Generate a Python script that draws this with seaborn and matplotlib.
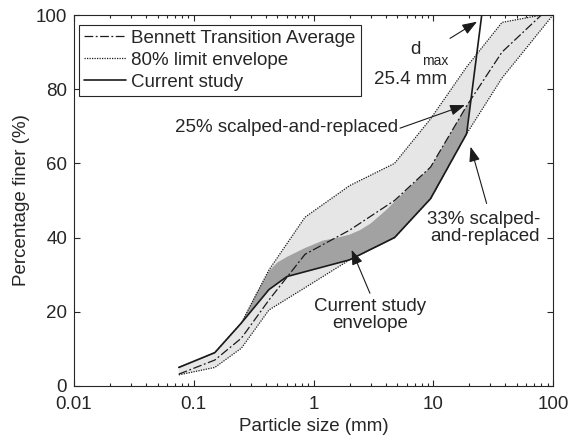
import numpy as np
import pandas as pd
import seaborn as sns
import matplotlib
matplotlib.use("Agg")
import matplotlib.pyplot as plt
from matplotlib.ticker import LogLocator, NullFormatter

# ---- data ----
avg_size = [0.075, 0.15, 0.25, 0.425, 0.85, 2.0, 4.75, 9.5, 19.0, 37.5, 80.0]
avg_pct = [3.2, 7.0, 12.9, 23.2, 35.5, 42.0, 50.0, 59.0, 75.5, 90.0, 100.0]

upper_size = [0.075, 0.15, 0.25, 0.425, 0.85, 2.0, 4.75, 9.5, 19.0, 37.5, 80.0, 100.0]
upper_pct = [5.0, 9.0, 17.0, 31.3, 45.5, 54.0, 60.0, 72.0, 86.0, 98.0, 100.0, 100.0]

lower_size = [0.075, 0.15, 0.25, 0.425, 0.85, 2.0, 4.75, 9.5, 19.0, 37.5, 100.0]
lower_pct = [3.0, 5.0, 10.2, 20.5, 26.5, 34.0, 40.0, 50.5, 68.0, 83.0, 100.0]

study_size = [0.075, 0.15, 0.25, 0.425, 0.6, 2.0, 4.75, 9.5, 19.0, 25.4]
study_pct = [5.0, 9.0, 17.0, 26.0, 29.5, 34.0, 40.0, 50.5, 68.0, 100.0]

env_top_size = [0.25, 0.33, 0.425, 0.5, 0.6, 0.85, 1.2, 1.6, 2.0, 2.44, 3.0, 3.6, 4.07, 4.75, 9.5, 19.0, 20.7]
env_top_pct = [17.0, 24.7, 31.0, 33.3, 34.8, 37.2, 39.2, 40.0, 40.8, 42.0, 43.8, 46.0, 47.5, 49.7, 59.0, 75.5, 77.3]

x_ticks = [0.01, 0.1, 1, 10, 100]
x_tick_labels = ["0.01", "0.1", "1", "10", "100"]
y_ticks = [0, 20, 40, 60, 80, 100]

# ---- style ----
sns.set_theme(style="ticks")
INK = "#262626"
plt.rcParams.update({
    "font.family": ["Liberation Sans", "DejaVu Sans"],
    "font.size": 13.5,
    "text.color": INK,
    "axes.labelcolor": INK,
    "axes.edgecolor": INK,
    "xtick.color": INK,
    "ytick.color": INK,
    "axes.linewidth": 0.8,
})

fig = plt.figure(figsize=(5.69, 4.43), dpi=100)
ax = fig.add_axes([74 / 569, 1 - 386 / 443, (553 - 74) / 569, (386 - 15) / 443])
ax.set_xscale("log")

# light grey 80% envelope
ax.fill(upper_size + lower_size[::-1], upper_pct + lower_pct[::-1],
        color="#e6e6e6", lw=0, zorder=1)
# dark grey current-study envelope
dark_x = env_top_size + study_size[2:9][::-1]
dark_y = env_top_pct + study_pct[2:9][::-1]
ax.fill(dark_x, dark_y, color="#a2a2a2", lw=0, zorder=2)

dot = (0, (1, 1))
dashdot = (0, (7, 2, 1.5, 2))
sns.lineplot(x=upper_size, y=upper_pct, ax=ax, color="k", lw=0.9, linestyle=dot,
             sort=False, estimator=None, label="80% limit envelope", zorder=3)
sns.lineplot(x=lower_size, y=lower_pct, ax=ax, color="k", lw=0.9, linestyle=dot,
             sort=False, estimator=None, label="_nolegend_", zorder=3)
sns.lineplot(x=avg_size, y=avg_pct, ax=ax, color="k", lw=0.9, linestyle=dashdot,
             sort=False, estimator=None, label="Bennett Transition Average", zorder=4)
sns.lineplot(x=study_size, y=study_pct, ax=ax, color="k", lw=1.2, linestyle="-",
             sort=False, estimator=None, label="Current study", zorder=5)

ax.set_xlim(0.01, 100)
ax.set_ylim(0, 100)
ax.set_xticks(x_ticks)
ax.set_xticklabels(x_tick_labels)
ax.xaxis.set_minor_locator(LogLocator(base=10, subs=np.arange(2, 10)))
ax.xaxis.set_minor_formatter(NullFormatter())
ax.set_yticks(y_ticks)
ax.tick_params(which="both", direction="in", top=True, right=True, width=0.8)
ax.tick_params(which="major", length=4, labelsize=13.5)
ax.tick_params(axis="x", which="major", pad=7)
ax.tick_params(axis="y", which="major", pad=5)
ax.tick_params(which="minor", length=2.2)
for s in ax.spines.values():
    s.set_visible(True)
    s.set_linewidth(0.8)

ax.set_xlabel("Particle size (mm)", fontsize=13.5, labelpad=4)
ax.set_ylabel("Percentage finer (%)", fontsize=13.5, labelpad=4)

# legend
handles, labels = ax.get_legend_handles_labels()
order = [labels.index(l) for l in ["Bennett Transition Average", "80% limit envelope", "Current study"]]
leg = ax.legend([handles[i] for i in order], [labels[i] for i in order],
                loc="upper left", bbox_to_anchor=(0.0104, 0.973), borderaxespad=0,
                fontsize=13.5, frameon=True, fancybox=False, framealpha=1,
                edgecolor=INK, borderpad=0.25, labelspacing=0.26,
                handlelength=2.28, handletextpad=0.27)
leg.get_frame().set_linewidth(0.8)
leg.set_zorder(10)

# annotations
arrow = dict(arrowstyle="-|>,head_length=0.6,head_width=0.22", color="k",
             lw=0.8, shrinkA=0, shrinkB=0, mutation_scale=15)

ax.text(7.04, 90.8, "d", ha="center", va="center", fontsize=13.5, zorder=6)
ax.text(10.34, 87.5, "max", ha="center", va="center", fontsize=10, zorder=6)
ax.text(6.49, 82.7, "25.4 mm", ha="center", va="center", fontsize=13.5, zorder=6)
ax.annotate("", xy=(23.2, 98.2), xytext=(13.8, 93.7), arrowprops=arrow, zorder=6)

ax.text(5.08, 69.8, "25% scalped-and-replaced", ha="right", va="center",
        fontsize=13.5, zorder=6)
ax.annotate("", xy=(18.4, 75.7), xytext=(5.28, 69.5), arrowprops=arrow, zorder=6)

ax.text(77.9, 42.7, "33% scalped-\nand-replaced", ha="right", va="center",
        multialignment="right", linespacing=1.0, fontsize=13.5, zorder=6)
ax.annotate("", xy=(20.5, 64.5), xytext=(27.9, 49.2), arrowprops=arrow, zorder=6)

ax.text(2.96, 19.1, "Current study\nenvelope", ha="center", va="center",
        multialignment="center", linespacing=1.0, fontsize=13.5, zorder=6)
ax.annotate("", xy=(2.08, 36.7), xytext=(2.96, 25.0), arrowprops=arrow, zorder=6)

fig.savefig("out.png", dpi=100)
